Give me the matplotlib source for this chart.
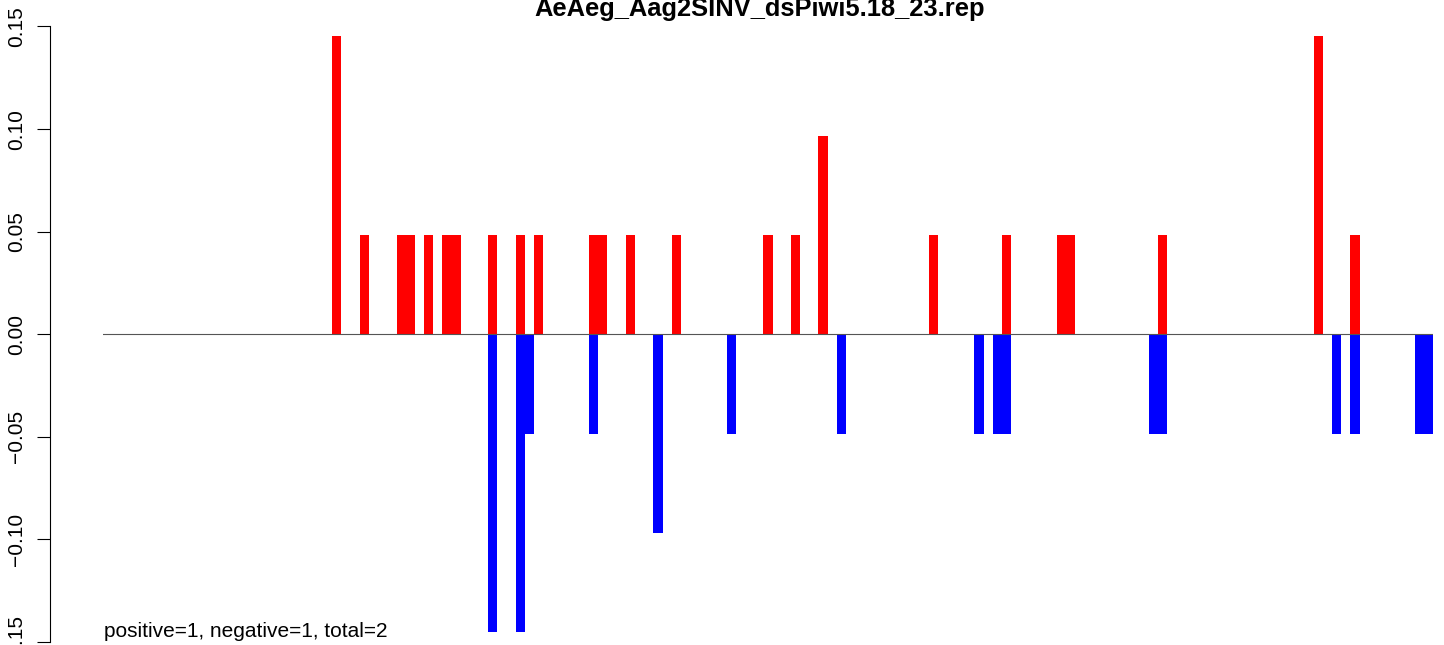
import matplotlib
matplotlib.use("Agg")
import matplotlib.pyplot as plt

plt.rcParams["font.family"] = ["Liberation Sans", "DejaVu Sans"]

title = "AeAeg_Aag2SINV_dsPiwi5.18_23.rep"
n_positions = 145

# positive strand (red)
pos_x = [25, 28, 32, 33, 35, 37, 38, 42, 45, 47, 53, 54, 57, 62,
         72, 75, 78, 90, 98, 104, 105, 115, 132, 136]
pos_y = [0.1452, 0.0484, 0.0484, 0.0484, 0.0484, 0.0484, 0.0484, 0.0484,
         0.0484, 0.0484, 0.0484, 0.0484, 0.0484, 0.0484, 0.0484, 0.0484,
         0.0968, 0.0484, 0.0484, 0.0484, 0.0484, 0.0484, 0.1452, 0.0484]

# negative strand (blue)
neg_x = [42, 45, 46, 53, 60, 68, 80, 95, 97, 98, 114, 115, 134, 136, 143, 144]
neg_y = [-0.1452, -0.1452, -0.0484, -0.0484, -0.0968, -0.0484, -0.0484,
         -0.0484, -0.0484, -0.0484, -0.0484, -0.0484, -0.0484, -0.0484,
         -0.0484, -0.0484]

yticks = [-0.15, -0.10, -0.05, 0.00, 0.05, 0.10, 0.15]
note = "positive=1, negative=1, total=2"

fig = plt.figure(figsize=(14.44, 6.45), dpi=100)
ax = fig.add_axes([103 / 1444, 3 / 645, 1330 / 1444, 615.5 / 645])

ax.bar(pos_x, pos_y, width=1, align="edge", color="red", linewidth=0)
ax.bar(neg_x, neg_y, width=1, align="edge", color="blue", linewidth=0)
ax.axhline(0, color="#555555", linewidth=0.8, zorder=3)

ax.set_xlim(0, n_positions)
ax.set_ylim(-0.15, 0.15)

for s in ["top", "right", "bottom"]:
    ax.spines[s].set_visible(False)
# spine sits ~53 px left of the plot region
ax.spines["left"].set_position(("outward", 53 * 0.72))
ax.spines["left"].set_linewidth(0.8)

ax.set_xticks([])
ax.set_yticks(yticks)
ax.set_yticklabels([f"{v:.2f}".replace("-", "\u2212") for v in yticks])
ax.tick_params(axis="y", length=9.4, width=0.8, pad=8, labelsize=15,
               labelrotation=90)
for lab in ax.get_yticklabels():
    lab.set_va("center")

ax.text(0.001, 0.0085, note, transform=ax.transAxes, fontsize=15,
        ha="left", va="baseline")

fig.text(760 / 1444, 0.975, title, fontsize=18.4, fontweight="bold",
         ha="center", va="baseline")

fig.savefig("out.png", dpi=100)
